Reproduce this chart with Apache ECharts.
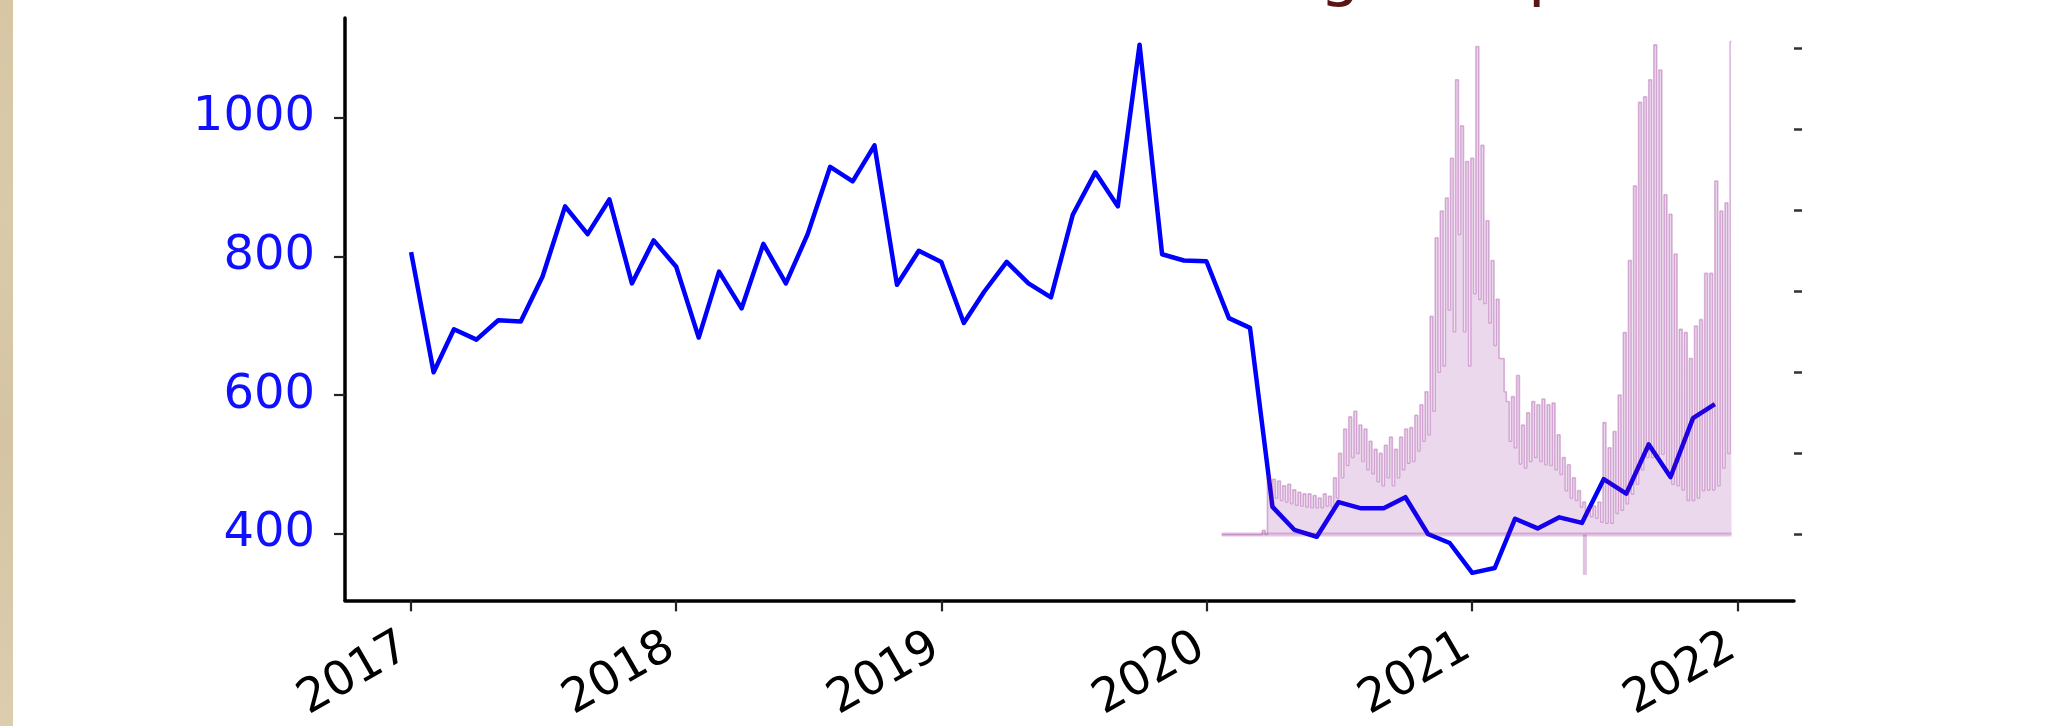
<!DOCTYPE html>
<html><head><meta charset="utf-8">
<script src="https://cdn.jsdelivr.net/npm/echarts@6/dist/echarts.min.js"></script>
<style>html,body{margin:0;padding:0;background:#ffffff}#c{width:2065px;height:726px}</style>
</head><body><div id="c"></div><script>
// ---- data ----
const yearTicks = [2017, 2018, 2019, 2020, 2021, 2022];
const leftTicks = [400, 600, 800, 1000];
const rightTicks = [0, 1, 2, 3, 4, 5, 6];

// monthly series (blue), first of each month
const blue2017 = [806, 633, 695, 680, 708, 706, 771, 872, 832, 882, 761, 823];
const blue2018 = [785, 683, 778, 725, 818, 761, 832, 929, 908, 960, 759, 808];
const blue2019 = [792, 704, 749, 792, 761, 741, 860, 921, 872, 1105, 803, 794];
const blue2020 = [793, 711, 697, 439, 406, 396, 446, 437, 437, 453, 400, 387];
const blue2021 = [344, 351, 422, 408, 424, 416, 479, 458, 529, 482, 567, 587];
const blueYears = [2017, 2018, 2019, 2020, 2021];

// weekly series (purple, right axis): weekly peak and weekly trough
const purpleStart = '2020-01-22';
const purpleHigh = [
  0, 0, 0, 0, 0, 0, 0, 0, 0.05, 0.72,
  0.68, 0.66, 0.6, 0.62, 0.55, 0.52, 0.5, 0.5, 0.48, 0.45,
  0.5, 0.47, 0.7, 1.0, 1.3, 1.45, 1.52, 1.35, 1.3, 1.15,
  1.05, 1.0, 1.1, 1.2, 1.05, 1.2, 1.3, 1.32, 1.47, 1.6,
  1.76, 2.69, 3.66, 3.99, 4.15, 4.64, 5.61, 5.04, 4.6, 4.64,
  6.02, 4.8, 3.87, 3.38, 2.9, 2.17, 1.64, 1.7, 1.96, 1.35,
  1.5, 1.64, 1.6, 1.67, 1.6, 1.62, 1.23, 0.95, 0.86, 0.7,
  0.54, 0.4, 0.34, 0.35, 0.4, 1.38, 1.07, 1.27, 1.72, 2.49,
  3.38, 4.3, 5.33, 5.4, 5.61, 6.04, 5.73, 4.19, 3.95, 3.46,
  2.53, 2.49, 2.17, 2.57, 2.65, 3.22, 3.22, 4.36, 3.99, 4.09,
  6.08
];
const purpleLow = [
  0, 0, 0, 0, 0, 0, 0, 0, 0, 0.35,
  0.45, 0.42, 0.4, 0.38, 0.36, 0.35, 0.34, 0.33, 0.33, 0.33,
  0.35, 0.34, 0.45, 0.7, 0.85, 0.95, 1.0, 0.9, 0.8, 0.75,
  0.65, 0.6, 0.7, 0.6, 0.7, 0.8, 0.88, 0.9, 1.03, 1.15,
  1.23, 1.52, 2.0, 2.08, 2.77, 2.5, 3.7, 2.5, 2.08, 2.97,
  2.9, 2.85, 2.61, 2.33, 2.17, 1.76, 1.15, 1.07, 0.87, 0.82,
  0.9, 0.95, 0.9, 0.86, 0.85, 0.8, 0.74, 0.54, 0.45, 0.42,
  0.34, 0.25, 0.22, 0.2, 0.15, 0.14, 0.14, 0.26, 0.3, 0.38,
  0.5, 0.62, 0.8, 0.95, 0.95, 0.95, 0.99, 0.8, 0.62, 0.6,
  0.55, 0.42, 0.42, 0.45, 0.54, 0.55, 0.55, 0.6, 0.82, 1.0,
  1.0
];
// single negative daily value
const purpleNegDate = '2021-06-05';
const purpleNegValue = -0.5;

const xMinDate = '2016-10-02';
const xMaxDate = '2022-03-20';

// ---- build ----
// x is measured in days (like a date axis)
function dayNum(s) { return Math.round(Date.parse(s + 'T00:00:00Z') / 86400000); }
const blueAll = [blue2017, blue2018, blue2019, blue2020, blue2021];
const blueData = [];
blueYears.forEach((y, yi) => {
  blueAll[yi].forEach((v, m) => {
    blueData.push([dayNum(y + '-' + String(m + 1).padStart(2, '0') + '-01'), v]);
  });
});
const p0 = dayNum(purpleStart);
const nW = purpleHigh.length;
const pEnd = p0 + 7 * (nW - 1) + 2;
// zig-zag daily-like series: high for 4 days, low for 3 days each week
const purpleData = [];
const bandLow = [];
const bandSpan = [];
for (let i = 0; i < nW; i++) {
  const d = p0 + 7 * i;
  purpleData.push([d, purpleHigh[i]]);
  if (i < nW - 1) purpleData.push([d + 4, purpleLow[i]]);
  bandLow.push([d, purpleLow[i]]);
  bandSpan.push([d, purpleHigh[i] - purpleLow[i]]);
}
purpleData.push([pEnd, purpleHigh[nW - 1]]);
bandLow.push([pEnd, purpleLow[nW - 1]]);
bandSpan.push([pEnd, purpleHigh[nW - 1] - purpleLow[nW - 1]]);
const baseData = [[p0, 0], [pEnd, 0]];
const negData = [[dayNum(purpleNegDate), purpleNegValue]];

const yearDays = yearTicks.map(y => dayNum(y + '-01-01'));
const dayToYear = {};
yearTicks.forEach((y, i) => { dayToYear[yearDays[i]] = y; });

const PURPLE_A = 'rgba(128,0,128,0.22)';
const FONT = '"DejaVu Sans", sans-serif';
const chart = echarts.init(document.getElementById('c'), null, { renderer: 'canvas' });
chart.setOption({
  animation: false,
  backgroundColor: '#ffffff',
  grid: { left: 345, right: 271, top: 18, bottom: 118, containLabel: false },
  xAxis: {
    type: 'value',
    min: dayNum(xMinDate),
    max: dayNum(xMaxDate),
    splitLine: { show: false },
    axisLine: { show: true, onZero: false, lineStyle: { color: '#000', width: 3.5 } },
    axisTick: {
      show: true, length: 11, lineStyle: { color: '#222', width: 2.2 },
      customValues: yearDays
    },
    axisLabel: {
      show: true, rotate: 30, fontSize: 47, fontFamily: FONT, color: '#000',
      margin: 41, padding: [0, 6, 0, 0],
      customValues: yearDays,
      formatter: v => String(dayToYear[Math.round(v)] !== undefined ? dayToYear[Math.round(v)] : '')
    }
  },
  yAxis: [
    {
      type: 'value', position: 'left', min: 304.4, max: 1143.4,
      splitLine: { show: false },
      axisLine: { show: true, onZero: false, lineStyle: { color: '#000', width: 3.5 } },
      axisTick: { show: true, length: 11, lineStyle: { color: '#222', width: 2.2 }, customValues: leftTicks },
      axisLabel: { show: true, fontSize: 48, fontFamily: FONT, color: '#1010ff', margin: 30,
        customValues: leftTicks, formatter: v => String(Math.round(v)) }
    },
    {
      type: 'value', position: 'right', min: -0.813, max: 6.371,
      splitLine: { show: false },
      axisLine: { show: false, onZero: false },
      axisTick: { show: true, inside: false, length: 8, lineStyle: { color: '#333', width: 2.5 }, customValues: rightTicks },
      axisLabel: { show: false }
    }
  ],
  series: [
    {
      name: 'monthly', type: 'line', yAxisIndex: 0, data: blueData,
      showSymbol: false, symbol: 'none',
      lineStyle: { color: '#0000ff', width: 4.5, join: 'round', cap: 'butt' },
      z: 2
    },
    {
      name: 'baseline', type: 'line', yAxisIndex: 1, data: baseData,
      showSymbol: false, symbol: 'none',
      lineStyle: { color: PURPLE_A, width: 4 },
      z: 3
    },
    {
      name: 'daily', type: 'line', yAxisIndex: 1, data: purpleData, step: 'end',
      showSymbol: false, symbol: 'none',
      lineStyle: { color: 'rgba(128,0,128,0.28)', width: 1.6 },
      areaStyle: { color: PURPLE_A, origin: 0 },
      z: 3
    },
    {
      name: 'bandLow', type: 'line', yAxisIndex: 1, data: bandLow, step: 'end', stack: 'band',
      showSymbol: false, symbol: 'none',
      lineStyle: { width: 0, opacity: 0 },
      z: 3
    },
    {
      name: 'bandSpan', type: 'line', yAxisIndex: 1, data: bandSpan, step: 'end', stack: 'band',
      showSymbol: false, symbol: 'none',
      lineStyle: { width: 0, opacity: 0 },
      areaStyle: { color: 'rgba(128,0,128,0.22)' },
      z: 3
    },
    {
      name: 'negative', type: 'bar', yAxisIndex: 1, data: negData,
      barWidth: 4, itemStyle: { color: 'rgba(128,0,128,0.24)' },
      z: 3
    }
  ],
  graphic: [
    {
      type: 'rect', shape: { x: 0, y: 0, width: 13, height: 726 },
      style: {
        fill: new echarts.graphic.LinearGradient(0, 0, 0, 1, [
          { offset: 0, color: '#d6c6a4' }, { offset: 0.3, color: '#d9caa9' },
          { offset: 0.6, color: '#d4c4a3' }, { offset: 1, color: '#dbcdae' }
        ])
      },
      silent: true
    },
    {
      type: 'text', x: 1340, y: -23,
      style: { text: 'g', font: '64px "DejaVu Sans", sans-serif', fill: '#5a1616', align: 'center', verticalAlign: 'middle' }
    },
    {
      type: 'text', x: 1528, y: -23,
      style: { text: 'p', font: '64px "DejaVu Sans", sans-serif', fill: '#5a1616', align: 'left', verticalAlign: 'middle' }
    }
  ]
});
</script></body></html>
